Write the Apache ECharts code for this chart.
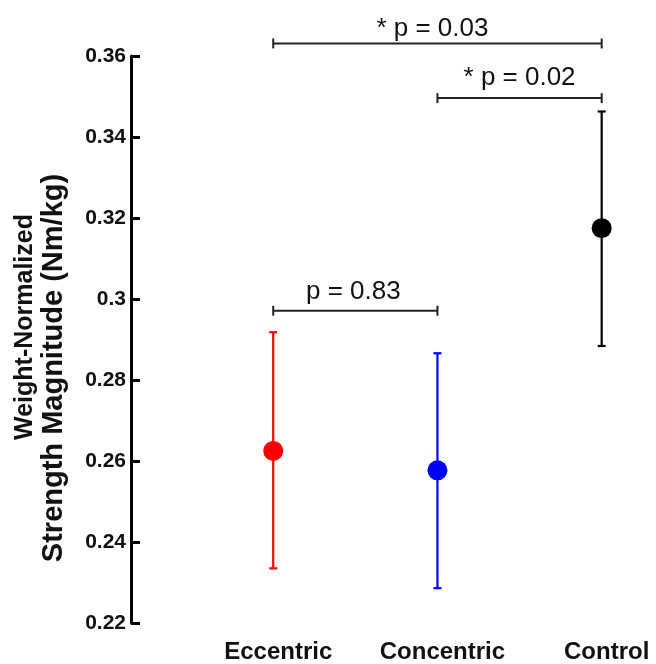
<!DOCTYPE html>
<html>
<head>
<meta charset="utf-8">
<script src="https://cdn.jsdelivr.net/npm/echarts@6/dist/echarts.min.js"></script>
<style>html,body{margin:0;padding:0;background:#fff;}#c{width:656px;height:664px;}</style>
</head>
<body>
<div id="c"></div>
<script>
var categories = ['Eccentric', 'Concentric', 'Control'];
var means = [0.2625, 0.2577, 0.3175];
var upper = [0.2918, 0.2866, 0.3463];
var lower = [0.2335, 0.2286, 0.2884];
var colors = ['#ff0000', '#0000ff', '#000000'];
var yTicks = [0.22, 0.24, 0.26, 0.28, 0.30, 0.32, 0.34, 0.36];
var bracketFrom = [0, 1, 0];
var bracketTo = [2, 2, 1];
var bracketY = [0.3631, 0.3496, 0.2971];
var bracketLabels = ['* p = 0.03', '* p = 0.02', 'p = 0.83'];

// label placement (styling, not data)
var labelDy = [15, 20, 19];
var labelDx = [-5, 0, -2];

var FONT = '"Liberation Sans", Arial, Helvetica, sans-serif';
var chart = echarts.init(document.getElementById('c'), null, {renderer: 'canvas'});

var errData = categories.map(function (c, i) { return [i, lower[i], upper[i]]; });
var meanData = categories.map(function (c, i) {
  return {value: [i, means[i]], itemStyle: {color: colors[i], opacity: 1}};
});
var bracketData = bracketLabels.map(function (l, i) {
  return [bracketFrom[i], bracketTo[i], bracketY[i], i];
});

var option = {
  animation: false,
  backgroundColor: '#ffffff',
  grid: {left: 131, top: 56, width: 505, bottom: 39, containLabel: false},
  xAxis: {
    type: 'value',
    min: -0.866,
    max: 2.209,
    axisLine: {show: false},
    axisTick: {show: false},
    splitLine: {show: false},
    axisLabel: {
      customValues: [0, 1, 2],
      margin: 17,
      padding: [0, 0, 0, 10],
      formatter: function (v) { return categories[Math.round(v)] || ''; },
      fontFamily: FONT, fontWeight: 'bold', fontSize: 24, color: '#111'
    }
  },
  yAxis: {
    type: 'value',
    min: yTicks[0],
    max: yTicks[yTicks.length - 1],
    interval: 0.02,
    axisLine: {show: true, onZero: false, lineStyle: {color: '#000', width: 3}},
    axisTick: {show: true, inside: true, length: 9, lineStyle: {color: '#000', width: 3}},
    splitLine: {show: false},
    axisLabel: {
      margin: 5,
      formatter: function (v) { return String(+v.toFixed(2)); },
      fontFamily: FONT, fontWeight: 'bold', fontSize: 21, color: '#111'
    }
  },
  graphic: [
    {type: 'text', x: 25, y: 327, rotation: Math.PI / 2,
     style: {text: 'Weight-Normalized', font: 'bold 25px ' + FONT, fill: '#111', align: 'center', verticalAlign: 'middle'}},
    {type: 'text', x: 54, y: 368, rotation: Math.PI / 2,
     style: {text: 'Strength Magnitude (Nm/kg)', font: 'bold 29px ' + FONT, fill: '#111', align: 'center', verticalAlign: 'middle'}}
  ],
  series: [
    {
      type: 'custom',
      clip: false,
      data: errData,
      z: 2,
      renderItem: function (params, api) {
        var i = api.value(0);
        var lo = api.coord([i, api.value(1)]);
        var hi = api.coord([i, api.value(2)]);
        var w = 4;
        var st = {stroke: colors[i], lineWidth: 2.2};
        return {type: 'group', children: [
          {type: 'line', shape: {x1: lo[0], y1: lo[1], x2: hi[0], y2: hi[1]}, style: st},
          {type: 'line', shape: {x1: lo[0] - w, y1: lo[1], x2: lo[0] + w, y2: lo[1]}, style: st},
          {type: 'line', shape: {x1: hi[0] - w, y1: hi[1], x2: hi[0] + w, y2: hi[1]}, style: st}
        ]};
      }
    },
    {
      type: 'scatter',
      data: meanData,
      symbol: 'circle',
      symbolSize: 20,
      itemStyle: {opacity: 1},
      z: 3
    },
    {
      type: 'custom',
      clip: false,
      data: bracketData,
      z: 4,
      renderItem: function (params, api) {
        var a = api.coord([api.value(0), api.value(2)]);
        var b = api.coord([api.value(1), api.value(2)]);
        var idx = api.value(3);
        var h = 5;
        var st = {stroke: '#222', lineWidth: 2};
        return {type: 'group', children: [
          {type: 'line', shape: {x1: a[0], y1: a[1], x2: b[0], y2: b[1]}, style: st},
          {type: 'line', shape: {x1: a[0], y1: a[1] - h, x2: a[0], y2: a[1] + h}, style: st},
          {type: 'line', shape: {x1: b[0], y1: b[1] - h, x2: b[0], y2: b[1] + h}, style: st},
          {type: 'text', x: (a[0] + b[0]) / 2 + labelDx[idx], y: a[1] - labelDy[idx],
           style: {text: bracketLabels[idx], font: '26px ' + FONT, fill: '#111', align: 'center', verticalAlign: 'middle'}}
        ]};
      }
    }
  ]
};
chart.setOption(option);
</script>
</body>
</html>
